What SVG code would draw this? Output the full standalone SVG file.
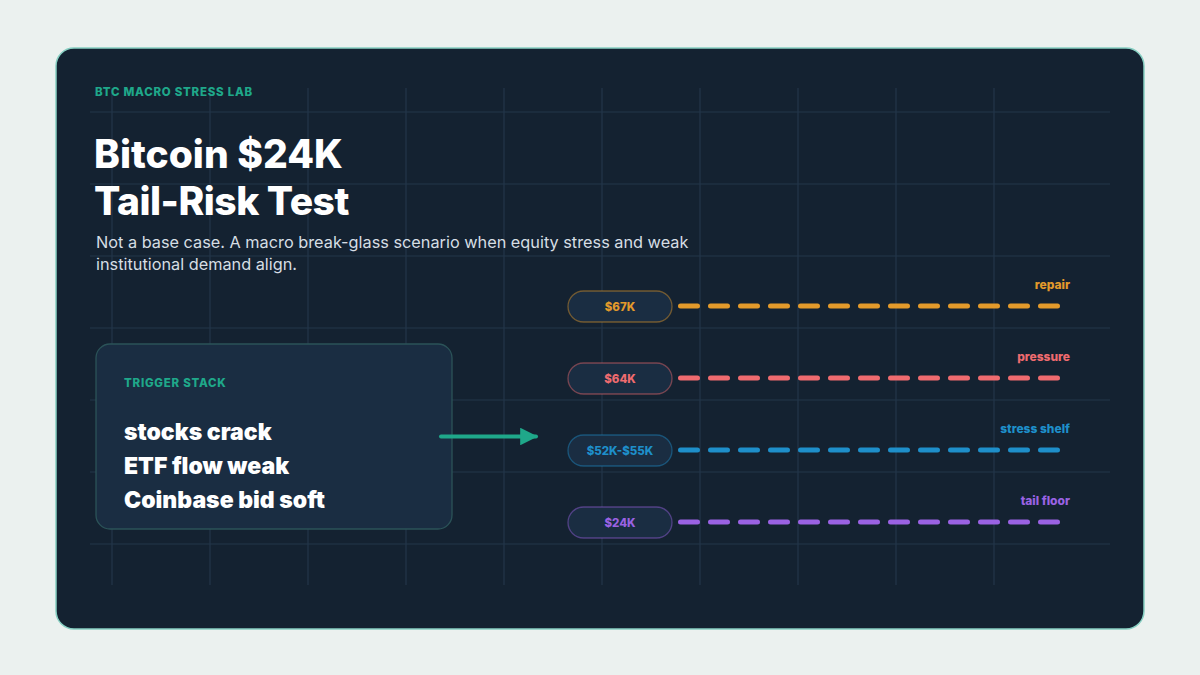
<svg xmlns="http://www.w3.org/2000/svg" width="1200" height="675" viewBox="0 0 1200 675">
<defs>
<style>
.grid line{stroke:#23364a;stroke-width:1.2}
.kicker{font-family:Inter,"Liberation Sans",sans-serif;font-weight:800;font-size:11.5px;fill:#1fa88a;letter-spacing:0.75px}
.title{font-family:Inter,"Liberation Sans",sans-serif;font-weight:800;font-size:39px;fill:#ffffff}
.sub{font-family:Inter,"Liberation Sans",sans-serif;font-size:16.3px;fill:#d6dee4}
.item{font-family:Inter,"Liberation Sans",sans-serif;font-weight:900;font-size:23px;fill:#ffffff}
.pill{fill:#1a2d42;stroke-width:1.3}
.ptxt{font-family:Inter,"Liberation Sans",sans-serif;font-weight:800;font-size:11.5px;text-anchor:middle}
.lbl{font-family:Inter,"Liberation Sans",sans-serif;font-weight:800;font-size:12px;text-anchor:end}
.lvl{stroke-width:5;stroke-linecap:round;stroke-dasharray:17 13;fill:none}
</style>
<marker id="ah" viewBox="0 0 10 10" refX="9" refY="5" markerWidth="4.4" markerHeight="4.4" orient="auto" markerUnits="strokeWidth">
<path d="M0,0 L10,5 L0,10 Z" fill="#1fa88a"/>
</marker>
</defs>
<rect width="1200" height="675" fill="#ebf1ef"/>
<rect x="56" y="48" width="1088" height="581" rx="18" fill="#142231" stroke="#86cfc2" stroke-width="1.5"/>
<g class="grid">
<line x1="112" y1="88" x2="112" y2="585"/><line x1="210" y1="88" x2="210" y2="585"/><line x1="308" y1="88" x2="308" y2="585"/><line x1="406" y1="88" x2="406" y2="585"/><line x1="504" y1="88" x2="504" y2="585"/><line x1="602" y1="88" x2="602" y2="585"/><line x1="700" y1="88" x2="700" y2="585"/><line x1="798" y1="88" x2="798" y2="585"/><line x1="896" y1="88" x2="896" y2="585"/><line x1="994" y1="88" x2="994" y2="585"/>
<line x1="90" y1="112" x2="1110" y2="112"/><line x1="90" y1="184" x2="1110" y2="184"/><line x1="90" y1="256" x2="1110" y2="256"/><line x1="90" y1="328" x2="1110" y2="328"/><line x1="90" y1="400" x2="1110" y2="400"/><line x1="90" y1="472" x2="1110" y2="472"/><line x1="90" y1="544" x2="1110" y2="544"/>
</g>
<g id="header">
<text class="kicker" x="95" y="96">BTC MACRO STRESS LAB</text>
<text class="title" x="94" y="168">Bitcoin $24K</text>
<text class="title" x="94" y="215" letter-spacing="-0.5">Tail-Risk Test</text>
<text class="sub" x="96" y="248">Not a base case. A macro break-glass scenario when equity stress and weak</text>
<text class="sub" x="96" y="270">institutional demand align.</text>
</g>
<g id="trigger-stack">
<rect x="96" y="344" width="356" height="185" rx="14" fill="#1a2d42" stroke="#2b5358" stroke-width="1.3"/>
<text class="kicker" x="124" y="387">TRIGGER STACK</text>
<text class="item" x="124" y="440">stocks crack</text>
<text class="item" x="124" y="474">ETF flow weak</text>
<text class="item" x="124" y="508">Coinbase bid soft</text>
</g>
<g id="connectors">
<line x1="441" y1="436.5" x2="536" y2="436.5" stroke="#1fa88a" stroke-width="4" stroke-linecap="round" marker-end="url(#ah)"/>
</g>
<g id="level-67k">
<rect class="pill" x="568" y="291" width="104" height="31" rx="15.5" stroke="#e39a2b" stroke-opacity="0.45"/>
<text class="ptxt" x="620" y="311" fill="#e39a2b">$67K</text>
<line class="lvl" x1="680.5" y1="306" x2="1057.5" y2="306" stroke="#e39a2b"/>
<text class="lbl" x="1070" y="289" fill="#e39a2b">repair</text>
</g>
<g id="level-64k">
<rect class="pill" x="568" y="363" width="104" height="31" rx="15.5" stroke="#ef6b6f" stroke-opacity="0.45"/>
<text class="ptxt" x="620" y="383" fill="#ef6b6f">$64K</text>
<line class="lvl" x1="680.5" y1="378" x2="1057.5" y2="378" stroke="#ef6b6f"/>
<text class="lbl" x="1070" y="361" fill="#ef6b6f">pressure</text>
</g>
<g id="level-52k-55k">
<rect class="pill" x="568" y="435" width="104" height="31" rx="15.5" stroke="#1e8fca" stroke-opacity="0.45"/>
<text class="ptxt" x="620" y="455" fill="#1e8fca">$52K-$55K</text>
<line class="lvl" x1="680.5" y1="450" x2="1057.5" y2="450" stroke="#1e8fca"/>
<text class="lbl" x="1070" y="433" fill="#1e8fca">stress shelf</text>
</g>
<g id="level-24k">
<rect class="pill" x="568" y="507" width="104" height="31" rx="15.5" stroke="#9a62e3" stroke-opacity="0.45"/>
<text class="ptxt" x="620" y="527" fill="#9a62e3">$24K</text>
<line class="lvl" x1="680.5" y1="522" x2="1057.5" y2="522" stroke="#9a62e3"/>
<text class="lbl" x="1070" y="505" fill="#9a62e3">tail floor</text>
</g>
</svg>
